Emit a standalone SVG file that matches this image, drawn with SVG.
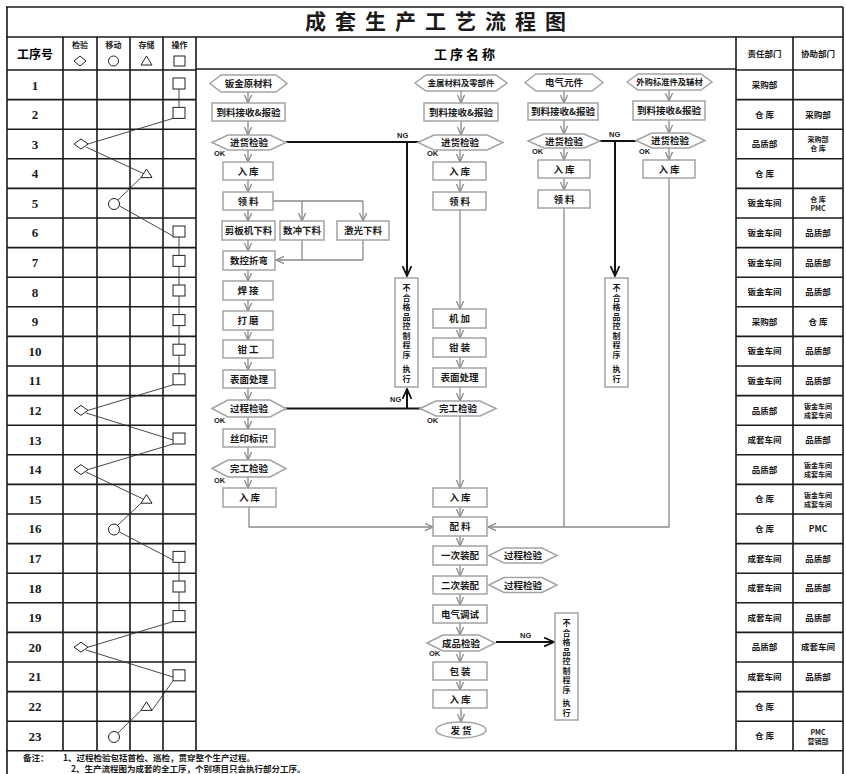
<svg xmlns="http://www.w3.org/2000/svg" width="846" height="774" viewBox="0 0 846 774">
<defs>
<marker id="ar" viewBox="0 0 10 10" refX="9" refY="5" markerWidth="9" markerHeight="9" orient="auto" markerUnits="userSpaceOnUse"><path d="M0,1 L9,5 L0,9" fill="none" stroke="#8a8a8a" stroke-width="1.4"/></marker>
<marker id="arb" viewBox="0 0 10 10" refX="9" refY="5" markerWidth="11" markerHeight="11" orient="auto" markerUnits="userSpaceOnUse"><path d="M0,1 L9,5 L0,9" fill="none" stroke="#111" stroke-width="1.6"/></marker>
</defs>
<style>
.grid{stroke:#1a1a1a;stroke-width:1.6;fill:none}
.sym{fill:#fff;stroke:#222;stroke-width:1}
.lk{stroke:#333;stroke-width:0.9;fill:none}
.box{fill:#fff;stroke:#a3a3a3;stroke-width:1.5}
.t{font-family:"Noto Sans CJK SC",sans-serif;font-weight:bold;font-size:9.5px;text-anchor:middle;fill:#1a1a1a}
.tl{font-family:"Noto Sans CJK SC",sans-serif;font-weight:bold;font-size:8.3px;text-anchor:middle;fill:#1a1a1a}
.s{font-family:"Noto Sans CJK SC",sans-serif;font-weight:bold;font-size:8px;text-anchor:middle;fill:#1a1a1a}
.s2{font-family:"Noto Sans CJK SC",sans-serif;font-weight:bold;font-size:7px;text-anchor:middle;fill:#1a1a1a}
.d{font-family:"Noto Sans CJK SC",sans-serif;font-weight:bold;font-size:8.5px;text-anchor:middle;fill:#1a1a1a}
.n{font-family:"Liberation Serif",serif;font-weight:bold;font-size:13px;text-anchor:middle;fill:#1a1a1a}
.ok{font-family:"Liberation Sans",sans-serif;font-weight:bold;font-size:7.5px;fill:#1a1a1a}
.fl{stroke:#8a8a8a;stroke-width:1.3;fill:none;marker-end:url(#ar)}
.ln{stroke:#8a8a8a;stroke-width:1.3;fill:none}
.ng{stroke:#111;stroke-width:2;fill:none}
.nt{font-family:"Noto Sans CJK SC",sans-serif;font-weight:bold;font-size:8.5px;fill:#1a1a1a}
</style>
<rect width="846" height="774" fill="#fff"/>

<g id="table">
<path class="grid" d="M6,7 H843 M6,37 H843 M6,750.8 H843 M7,7 V774 M843,7 V774 M63,37 V750.8 M97,37 V750.8 M130,37 V750.8 M163,37 V750.8 M196,37 V750.8 M736,37 V750.8 M793,37 V750.8"/>
<path class="grid" d="M7,70 H196 M7,99.6 H196 M7,129.2 H196 M7,158.8 H196 M7,188.4 H196 M7,218 H196 M7,247.6 H196 M7,277.2 H196 M7,306.8 H196 M7,336.4 H196 M7,366 H196 M7,395.6 H196 M7,425.2 H196 M7,454.8 H196 M7,484.4 H196 M7,514 H196 M7,543.6 H196 M7,573.2 H196 M7,602.8 H196 M7,632.4 H196 M7,662 H196 M7,691.6 H196 M7,721.2 H196"/>
<path class="grid" d="M736,70 H843 M736,99.6 H843 M736,129.2 H843 M736,158.8 H843 M736,188.4 H843 M736,218 H843 M736,247.6 H843 M736,277.2 H843 M736,306.8 H843 M736,336.4 H843 M736,366 H843 M736,395.6 H843 M736,425.2 H843 M736,454.8 H843 M736,484.4 H843 M736,514 H843 M736,543.6 H843 M736,573.2 H843 M736,602.8 H843 M736,632.4 H843 M736,662 H843 M736,691.6 H843 M736,721.2 H843"/>
<path class="grid" d="M196,69 H736" stroke-width="1"/>
</g>

<g id="title">
<text x="440" y="29" style="font-family:'Noto Sans CJK SC',sans-serif;font-weight:bold;font-size:21px;letter-spacing:9px" text-anchor="middle" fill="#1a1a1a">成套生产工艺流程图</text>
</g>

<g id="header">
<text x="35" y="59" style="font-family:'Noto Sans CJK SC',sans-serif;font-weight:bold;font-size:12px" text-anchor="middle">工序号</text>
<text class="s" x="80" y="48">检验</text><path class="sym" d="M74,61 L80,56 L86,61 L80,66 Z"/>
<text class="s" x="113.5" y="48">移动</text><circle class="sym" cx="113.5" cy="61" r="5"/>
<text class="s" x="146.5" y="48">存储</text><path class="sym" d="M141,65 L152,65 L146.5,56 Z"/>
<text class="s" x="179.5" y="48">操作</text><rect class="sym" x="174" y="56" width="11" height="10"/>
<text x="466" y="59" style="font-family:'Noto Sans CJK SC',sans-serif;font-weight:bold;font-size:13px;letter-spacing:3px" text-anchor="middle">工序名称</text>
<text class="d" x="764.5" y="57">责任部门</text>
<text class="d" x="818" y="57">协助部门</text>
</g>

<g id="rownums">
<text class="n" x="35" y="89.5">1</text><text class="n" x="35" y="119">2</text><text class="n" x="35" y="148.5">3</text><text class="n" x="35" y="178">4</text><text class="n" x="35" y="207.5">5</text><text class="n" x="35" y="237">6</text><text class="n" x="35" y="267">7</text><text class="n" x="35" y="296.5">8</text><text class="n" x="35" y="326">9</text><text class="n" x="35" y="355.5">10</text><text class="n" x="35" y="385">11</text><text class="n" x="35" y="415">12</text><text class="n" x="35" y="444.5">13</text><text class="n" x="35" y="474">14</text><text class="n" x="35" y="503.5">15</text><text class="n" x="35" y="533">16</text><text class="n" x="35" y="563">17</text><text class="n" x="35" y="592.5">18</text><text class="n" x="35" y="622">19</text><text class="n" x="35" y="651.5">20</text><text class="n" x="35" y="681">21</text><text class="n" x="35" y="711">22</text><text class="n" x="35" y="740.5">23</text>
</g>

<g id="process-chart">
<path class="lk" d="M179,89 V107 M173,118.4 L88,144 M86,147 L152,177.6 M141,177.6 L118,200 M119.5,206 L173,236 M179,236 V374 M173,384.8 L88,410.4 M86,413 L173,440 M173,444 L88,469.6 M86,472 L152,503.2 M141,503.2 L118,525 M119.5,532 L173,560 M179,562 V611 M173,621.6 L88,647.2 M86,650 L173,677 M173,680.8 L152,710.4 M141,710.4 L118,733"/>
<rect class="sym" x="173" y="78" width="12" height="11"/>
<rect class="sym" x="173" y="107.4" width="12" height="11"/>
<path class="sym" d="M74,144 L81,139 L88,144 L81,149 Z"/>
<path class="sym" d="M141,177.6 L152,177.6 L146.5,169 Z"/>
<circle class="sym" cx="114" cy="204" r="5.5"/>
<rect class="sym" x="173" y="226" width="12" height="11"/>
<rect class="sym" x="173" y="255.4" width="12" height="11"/>
<rect class="sym" x="173" y="285" width="12" height="11"/>
<rect class="sym" x="173" y="314.6" width="12" height="11"/>
<rect class="sym" x="173" y="344.2" width="12" height="11"/>
<rect class="sym" x="173" y="373.8" width="12" height="11"/>
<path class="sym" d="M74,410.4 L81,405.4 L88,410.4 L81,415.4 Z"/>
<rect class="sym" x="173" y="433" width="12" height="11"/>
<path class="sym" d="M74,469.6 L81,464.6 L88,469.6 L81,474.6 Z"/>
<path class="sym" d="M141,503.2 L152,503.2 L146.5,494.6 Z"/>
<circle class="sym" cx="114" cy="529.5" r="5.5"/>
<rect class="sym" x="173" y="551.4" width="12" height="11"/>
<rect class="sym" x="173" y="581" width="12" height="11"/>
<rect class="sym" x="173" y="610.6" width="12" height="11"/>
<path class="sym" d="M74,647.2 L81,642.2 L88,647.2 L81,652.2 Z"/>
<rect class="sym" x="173" y="669.8" width="12" height="11"/>
<path class="sym" d="M141,710.4 L152,710.4 L146.5,701.8 Z"/>
<circle class="sym" cx="114" cy="737" r="5.5"/>
</g>

<g id="departments">
<text class="d" x="764.5" y="88">采购部</text>
<text class="d" x="764.5" y="117.5">仓 库</text><text class="d" x="818" y="117.5">采购部</text>
<text class="d" x="764.5" y="147">品质部</text><text class="s2" x="818" y="142">采购部</text><text class="s2" x="818" y="151">仓 库</text>
<text class="d" x="764.5" y="176.5">仓 库</text>
<text class="d" x="764.5" y="206">钣金车间</text><text class="s2" x="818" y="201.5">仓 库</text><text class="s2" x="818" y="210.5">PMC</text>
<text class="d" x="764.5" y="236">钣金车间</text><text class="d" x="818" y="236">品质部</text>
<text class="d" x="764.5" y="265.5">钣金车间</text><text class="d" x="818" y="265.5">品质部</text>
<text class="d" x="764.5" y="295">钣金车间</text><text class="d" x="818" y="295">品质部</text>
<text class="d" x="764.5" y="324.5">采购部</text><text class="d" x="818" y="324.5">仓 库</text>
<text class="d" x="764.5" y="354">钣金车间</text><text class="d" x="818" y="354">品质部</text>
<text class="d" x="764.5" y="384">钣金车间</text><text class="d" x="818" y="384">品质部</text>
<text class="d" x="764.5" y="413.5">品质部</text><text class="s2" x="818" y="409">钣金车间</text><text class="s2" x="818" y="418">成套车间</text>
<text class="d" x="764.5" y="443">成套车间</text><text class="d" x="818" y="443">品质部</text>
<text class="d" x="764.5" y="472.5">品质部</text><text class="s2" x="818" y="468">钣金车间</text><text class="s2" x="818" y="477">成套车间</text>
<text class="d" x="764.5" y="502">仓 库</text><text class="s2" x="818" y="497.5">钣金车间</text><text class="s2" x="818" y="506.5">成套车间</text>
<text class="d" x="764.5" y="532">仓 库</text><text class="d" x="818" y="532">PMC</text>
<text class="d" x="764.5" y="561.5">成套车间</text><text class="d" x="818" y="561.5">品质部</text>
<text class="d" x="764.5" y="591">成套车间</text><text class="d" x="818" y="591">品质部</text>
<text class="d" x="764.5" y="620.5">成套车间</text><text class="d" x="818" y="620.5">品质部</text>
<text class="d" x="764.5" y="650">品质部</text><text class="d" x="818" y="650">成套车间</text>
<text class="d" x="764.5" y="680">成套车间</text><text class="d" x="818" y="680">品质部</text>
<text class="d" x="764.5" y="709.5">仓 库</text>
<text class="d" x="764.5" y="739">仓 库</text><text class="s2" x="818" y="734.5">PMC</text><text class="s2" x="818" y="743.5">营销部</text>
</g>

<g id="connectors">
<path class="fl" d="M248,92 V103"/>
<path class="fl" d="M248,121 V135"/>
<path class="fl" d="M248,150 V162"/>
<path class="fl" d="M248,180 V192"/>
<path class="fl" d="M248,210 V221"/>
<path class="ln" d="M273,201 H363"/>
<path class="fl" d="M302,201 V221"/>
<path class="fl" d="M363,201 V221"/>
<path class="ln" d="M302,240 V260 M363,240 V260"/>
<path class="fl" d="M363,260 H276"/>
<path class="fl" d="M248,240 V251"/>
<path class="fl" d="M248,270 V281"/>
<path class="fl" d="M248,300 V311"/>
<path class="fl" d="M248,330 V340"/>
<path class="fl" d="M248,358 V370"/>
<path class="fl" d="M248,388 V400"/>
<path class="fl" d="M248,417 V429"/>
<path class="fl" d="M248,447 V460"/>
<path class="fl" d="M248,477 V488"/>
<path class="fl" d="M249,507 V527 H433"/>

<path class="fl" d="M461,91 V103"/>
<path class="fl" d="M461,121 V135"/>
<path class="fl" d="M460,150 V162"/>
<path class="fl" d="M460,180 V192"/>
<path class="fl" d="M460,210 V309"/>
<path class="fl" d="M460,328 V338"/>
<path class="fl" d="M460,357 V368"/>
<path class="fl" d="M460,387 V401"/>
<path class="fl" d="M460,416 V488"/>
<path class="fl" d="M460,507 V517"/>
<path class="fl" d="M460,536 V546"/>
<path class="fl" d="M460,565 V576"/>
<path class="fl" d="M460,594 V605"/>
<path class="fl" d="M460,623 V635"/>
<path class="fl" d="M460,651 V662"/>
<path class="fl" d="M460,680 V690"/>
<path class="fl" d="M461,708 V722"/>

<path class="fl" d="M564,91 V103"/>
<path class="fl" d="M564,120 V134"/>
<path class="fl" d="M564,148 V160"/>
<path class="fl" d="M564,178 V190"/>
<path class="ln" d="M564,208 V527"/>

<path class="fl" d="M669,90 V101"/>
<path class="fl" d="M669,120 V133"/>
<path class="fl" d="M669,148 V160"/>
<path class="ln" d="M669,178 V527 H564"/>
<path class="fl" d="M564,527 H488"/>

<path class="ng" d="M286,142 H420"/>
<path class="ng" d="M407,142 V276" marker-end="url(#arb)"/>
<path class="ng" d="M285,408.5 H421"/>
<path class="ng" d="M407,408.5 V389" marker-end="url(#arb)"/>
<path class="ng" d="M600,141 H636"/>
<path class="ng" d="M615,141 V276" marker-end="url(#arb)"/>
<path class="ng" d="M496,642 H554" marker-end="url(#arb)"/>
<text class="ok" x="397" y="138">NG</text>
<text class="ok" x="390" y="402">NG</text>
<text class="ok" x="609" y="137">NG</text>
<text class="ok" x="520" y="638">NG</text>
<text class="ok" x="214" y="156">OK</text>
<text class="ok" x="427" y="156">OK</text>
<text class="ok" x="532" y="154">OK</text>
<text class="ok" x="639" y="154">OK</text>
<text class="ok" x="214" y="423">OK</text>
<text class="ok" x="214" y="483">OK</text>
<text class="ok" x="427" y="423">OK</text>
<text class="ok" x="429" y="656">OK</text>
</g>

<g id="n-c1-src"><path class="box" d="M210,83.5 L221,75 H276 L287,83.5 L276,92 H221 Z"/><text class="t" x="248.5" y="87">钣金原材料</text></g>
<g id="n-c1-recv"><rect class="box" x="212" y="103" width="73" height="18"/><text class="t" x="248.5" y="115.5">到料接收&amp;报验</text></g>
<g id="n-c1-iqc"><path class="box" d="M212,142.5 L228,135 H270 L286,142.5 L270,150 H228 Z"/><text class="t" x="249" y="146">进货检验</text></g>
<g id="n-c1-in"><rect class="box" x="223" y="162" width="50" height="18"/><text class="t" x="248" y="174.5">入 库</text></g>
<g id="n-c1-pick"><rect class="box" x="223" y="192" width="50" height="18"/><text class="t" x="248" y="204.5">领 料</text></g>
<g id="n-c1-cut1"><rect class="box" x="222" y="221" width="53" height="19"/><text class="t" x="248.5" y="234">剪板机下料</text></g>
<g id="n-c1-cut2"><rect class="box" x="280" y="221" width="44" height="19"/><text class="t" x="302" y="234">数冲下料</text></g>
<g id="n-c1-cut3"><rect class="box" x="337" y="221" width="52" height="19"/><text class="t" x="363" y="234">激光下料</text></g>
<g id="n-c1-bend"><rect class="box" x="223" y="251" width="52" height="19"/><text class="t" x="249" y="264">数控折弯</text></g>
<g id="n-c1-weld"><rect class="box" x="223" y="281" width="50" height="19"/><text class="t" x="248" y="294">焊 接</text></g>
<g id="n-c1-grind"><rect class="box" x="223" y="311" width="50" height="19"/><text class="t" x="248" y="324">打 磨</text></g>
<g id="n-c1-fit"><rect class="box" x="223" y="340" width="50" height="18"/><text class="t" x="248" y="352.5">钳 工</text></g>
<g id="n-c1-surf"><rect class="box" x="223" y="370" width="52" height="18"/><text class="t" x="249" y="382.5">表面处理</text></g>
<g id="n-c1-ipqc"><path class="box" d="M212,408.5 L228,400 H270 L286,408.5 L270,417 H228 Z"/><text class="t" x="249" y="412">过程检验</text></g>
<g id="n-c1-mark"><rect class="box" x="223" y="429" width="52" height="18"/><text class="t" x="249" y="441.5">丝印标识</text></g>
<g id="n-c1-fqc"><path class="box" d="M212,468.5 L228,460 H270 L286,468.5 L270,477 H228 Z"/><text class="t" x="249" y="472">完工检验</text></g>
<g id="n-c1-in2"><rect class="box" x="223" y="488" width="53" height="19"/><text class="t" x="249.5" y="501">入 库</text></g>

<g id="n-c2-src"><path class="box" d="M415,83 L426,75 H496 L507,83 L496,91 H426 Z"/><text class="tl" x="461" y="86">金属材料及零部件</text></g>
<g id="n-c2-recv"><rect class="box" x="424" y="103" width="74" height="18"/><text class="t" x="461" y="115.5">到料接收&amp;报验</text></g>
<g id="n-c2-iqc"><path class="box" d="M418,142.5 L434,135 H487 L503,142.5 L487,150 H434 Z"/><text class="t" x="460" y="146">进货检验</text></g>
<g id="n-c2-in"><rect class="box" x="433" y="162" width="53" height="18"/><text class="t" x="459.5" y="174.5">入 库</text></g>
<g id="n-c2-pick"><rect class="box" x="433" y="192" width="53" height="18"/><text class="t" x="459.5" y="204.5">领 料</text></g>
<g id="n-c2-mach"><rect class="box" x="433" y="309" width="53" height="19"/><text class="t" x="459.5" y="322">机 加</text></g>
<g id="n-c2-fit"><rect class="box" x="433" y="338" width="53" height="19"/><text class="t" x="459.5" y="351">钳 装</text></g>
<g id="n-c2-surf"><rect class="box" x="433" y="368" width="53" height="19"/><text class="t" x="459.5" y="381">表面处理</text></g>
<g id="n-c2-fqc"><path class="box" d="M420,408.5 L436,401 H480 L496,408.5 L480,416 H436 Z"/><text class="t" x="458" y="412">完工检验</text></g>
<g id="n-c2-in2"><rect class="box" x="433" y="488" width="54" height="19"/><text class="t" x="460" y="501">入 库</text></g>

<g id="n-c3-src"><path class="box" d="M525,82.5 L536,74 H592 L603,82.5 L592,91 H536 Z"/><text class="t" x="564" y="86">电气元件</text></g>
<g id="n-c3-recv"><rect class="box" x="528" y="103" width="70" height="17"/><text class="t" x="563" y="115">到料接收&amp;报验</text></g>
<g id="n-c3-iqc"><path class="box" d="M528,141 L544,134 H584 L600,141 L584,148 H544 Z"/><text class="t" x="564" y="144.5">进货检验</text></g>
<g id="n-c3-in"><rect class="box" x="538" y="160" width="52" height="18"/><text class="t" x="564" y="172.5">入 库</text></g>
<g id="n-c3-pick"><rect class="box" x="538" y="190" width="52" height="18"/><text class="t" x="564" y="202.5">领 料</text></g>

<g id="n-c4-src"><path class="box" d="M627,82 L638,74 H701 L712,82 L701,90 H638 Z"/><text class="tl" x="669.5" y="85">外购标准件及辅材</text></g>
<g id="n-c4-recv"><rect class="box" x="633" y="101" width="72" height="19"/><text class="t" x="669" y="114">到料接收&amp;报验</text></g>
<g id="n-c4-iqc"><path class="box" d="M636,140.5 L652,133 H689 L705,140.5 L689,148 H652 Z"/><text class="t" x="670" y="144">进货检验</text></g>
<g id="n-c4-in"><rect class="box" x="643" y="160" width="52" height="18"/><text class="t" x="669" y="172.5">入 库</text></g>

<g id="n-ng1"><rect class="box" x="395" y="278" width="23" height="109"/>
<text class="s" x="406.5" y="291">不</text><text class="s" x="406.5" y="300.5">合</text><text class="s" x="406.5" y="310">格</text><text class="s" x="406.5" y="319.5">品</text><text class="s" x="406.5" y="329">控</text><text class="s" x="406.5" y="338.5">制</text><text class="s" x="406.5" y="348">程</text><text class="s" x="406.5" y="357.5">序</text><text class="s" x="406.5" y="372">执</text><text class="s" x="406.5" y="382">行</text></g>
<g id="n-ng2"><rect class="box" x="605" y="278" width="23" height="109"/>
<text class="s" x="616.5" y="291">不</text><text class="s" x="616.5" y="300.5">合</text><text class="s" x="616.5" y="310">格</text><text class="s" x="616.5" y="319.5">品</text><text class="s" x="616.5" y="329">控</text><text class="s" x="616.5" y="338.5">制</text><text class="s" x="616.5" y="348">程</text><text class="s" x="616.5" y="357.5">序</text><text class="s" x="616.5" y="372">执</text><text class="s" x="616.5" y="382">行</text></g>

<g id="n-kit"><rect class="box" x="433" y="517" width="54" height="19"/><text class="t" x="460" y="530">配 料</text></g>
<g id="n-asm1"><rect class="box" x="433" y="546" width="54" height="19"/><text class="t" x="460" y="559">一次装配</text></g>
<g id="n-asm1-qc"><path class="box" d="M489,555.5 L504,548 H542 L557,555.5 L542,563 H504 Z"/><text class="t" x="523" y="559">过程检验</text></g>
<g id="n-asm2"><rect class="box" x="433" y="576" width="54" height="18"/><text class="t" x="460" y="588.5">二次装配</text></g>
<g id="n-asm2-qc"><path class="box" d="M489,585 L504,577.5 H542 L557,585 L542,592.5 H504 Z"/><text class="t" x="523" y="588.5">过程检验</text></g>
<g id="n-test"><rect class="box" x="433" y="605" width="54" height="18"/><text class="t" x="460" y="617.5">电气调试</text></g>
<g id="n-oqc"><path class="box" d="M427,643 L443,635 H479 L495,643 L479,651 H443 Z"/><text class="t" x="461" y="646.5">成品检验</text></g>
<g id="n-ng3"><rect class="box" x="555" y="613" width="23" height="107"/>
<text class="s" x="566.5" y="626">不</text><text class="s" x="566.5" y="635.5">合</text><text class="s" x="566.5" y="645">格</text><text class="s" x="566.5" y="654.5">品</text><text class="s" x="566.5" y="664">控</text><text class="s" x="566.5" y="673.5">制</text><text class="s" x="566.5" y="683">程</text><text class="s" x="566.5" y="692.5">序</text><text class="s" x="566.5" y="706">执</text><text class="s" x="566.5" y="716">行</text></g>
<g id="n-pack"><rect class="box" x="433" y="662" width="54" height="18"/><text class="t" x="460" y="674.5">包 装</text></g>
<g id="n-in3"><rect class="box" x="433" y="690" width="54" height="18"/><text class="t" x="460" y="702.5">入 库</text></g>
<g id="n-ship"><ellipse class="box" cx="461" cy="730" rx="25" ry="8"/><text class="t" x="461" y="733.5">发 货</text></g>

<g id="notes">
<text class="nt" x="23" y="760.5">备注：</text>
<text class="nt" x="63" y="760.5">1、过程检验包括首检、巡检，贯穿整个生产过程。</text>
<text class="nt" x="71" y="772">2、生产流程图为成套的全工序，个别项目只会执行部分工序。</text>
</g>
</svg>
